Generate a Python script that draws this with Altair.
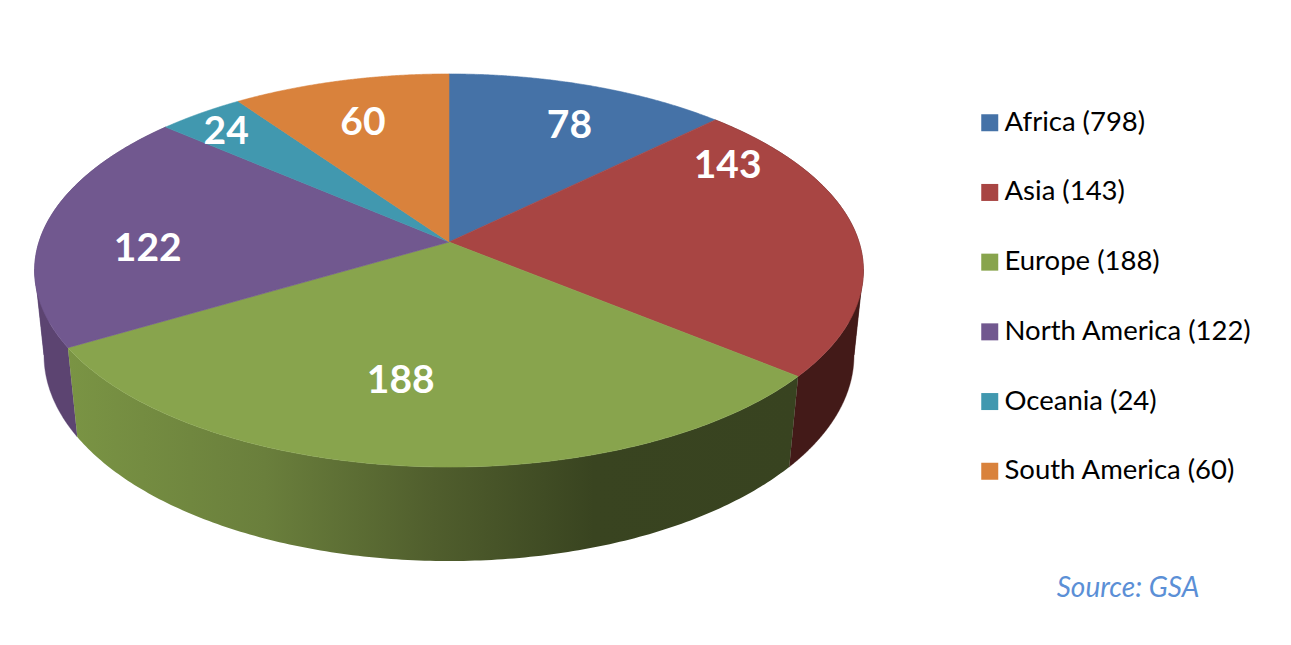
import math
import altair as alt
import pandas as pd

categories = ["Africa", "Asia", "Europe", "North America", "Oceania", "South America"]
values = [78, 143, 188, 122, 24, 60]
legend_labels = ["Africa (798)", "Asia (143)", "Europe (188)", "North America (122)", "Oceania (24)", "South America (60)"]
colors = ["#4572A7", "#A84543", "#88A44D", "#71588F", "#4198AF", "#D9823C"]
source_text = "Source: GSA"

# layout of the tilted disc (perspective projection of a circle), page offset removed
HUB_X, TOP_Y = 441.0, 234.0
TOP_R, TOP_S, TOP_K = 410.0, 192.4, 0.145
LOW_R, LOW_S, LOW_K, LOW_Y = 401.0, 201.7, 0.14, 318.5
# angles at which the wall folds round the visible edge of the disc
FOLDS = [math.radians(98), math.radians(262)]
# label shift from the slice's mid-radius point
LABEL_SHIFT = [(16, 0), (-15, -70), (-23, -15), (-10, 19), (-39, -15), (-5, 1)]
LABEL_RADIUS = 0.72


def top(theta, r=1.0):
    u, v = r * math.sin(theta), r * math.cos(theta)
    d = 1 + TOP_K * v
    return [HUB_X + TOP_R * u / d, TOP_Y - TOP_S * v / d]


def low(theta):
    u, v = math.sin(theta), math.cos(theta)
    d = 1 + LOW_K * v
    return [HUB_X + LOW_R * u / d, LOW_Y - LOW_S * v / d]


def closed(ring):
    return ring + [ring[0]]


total = sum(values)
edges = [0.0]
for v in values:
    edges.append(edges[-1] + v / total * 2 * math.pi)


def angles(a, b, n=160):
    return [a + (b - a) * i / n for i in range(n + 1)]


top_features = []
wall_features = {}
label_rows = []
for i, name in enumerate(categories):
    a, b = edges[i], edges[i + 1]
    ts = angles(a, b)
    top_ring = [[HUB_X, TOP_Y]] + [top(t) for t in ts]
    top_features.append({
        "type": "Feature",
        "geometry": {"type": "Polygon", "coordinates": [closed(top_ring)]},
        "properties": {"label": legend_labels[i]},
    })
    # one shape per side of a fold: in one path the two sides would cancel out
    cuts = [a] + [f for f in FOLDS if a < f < b] + [b]
    parts = []
    for c0, c1 in zip(cuts, cuts[1:]):
        part = angles(c0, c1)
        parts.append({
            "type": "Feature",
            "geometry": {"type": "Polygon", "coordinates": [closed([top(t) for t in part] + [low(t) for t in reversed(part)])]},
            "properties": {"label": legend_labels[i]},
        })
    wall_features[name] = parts
    mx, my = top((a + b) / 2, LABEL_RADIUS)
    label_rows.append({"x": mx + LABEL_SHIFT[i][0], "y": my + LABEL_SHIFT[i][1], "value": values[i]})

projection = alt.Projection(type="identity", scale=1, translate=[0, 0])


def geo(features):
    return alt.Data(values=features)


wall_red = alt.Chart(geo(wall_features["Asia"])).mark_geoshape(fill="#431A18", stroke="#431A18", strokeWidth=0.4).project(**projection.to_dict())
wall_purple = alt.Chart(geo(wall_features["North America"])).mark_geoshape(fill="#5C4471", stroke="#5C4471", strokeWidth=0.4).project(**projection.to_dict())
wall_green = alt.Chart(geo(wall_features["Europe"])).mark_geoshape(
    stroke=None,
    fill=alt.LinearGradient(
        gradient="linear", x1=0, x2=1, y1=0, y2=0,
        stops=[
            alt.GradientStop(color="#7A9444", offset=0),
            alt.GradientStop(color="#6A7F3C", offset=0.27),
            alt.GradientStop(color="#505E2D", offset=0.5),
            alt.GradientStop(color="#394420", offset=0.72),
            alt.GradientStop(color="#384320", offset=1),
        ],
    ),
).project(**projection.to_dict())

color_scale = alt.Scale(domain=legend_labels, range=colors)
pie_top = alt.Chart(geo(top_features)).mark_geoshape(strokeWidth=0.6).encode(
    color=alt.Color(
        "properties.label:N",
        scale=color_scale,
        legend=alt.Legend(
            title=None, orient="none", legendX=968, legendY=101, symbolType="square", symbolSize=289,
            symbolStrokeWidth=0, labelFont="Lato", labelFontSize=27.5, labelColor="#000000",
            labelLimit=320, rowPadding=40.7, labelOffset=1, padding=0,
        ),
    ),
    stroke=alt.Stroke("properties.label:N", scale=color_scale, legend=None),
).project(**projection.to_dict())

value_labels = alt.Chart(pd.DataFrame(label_rows)).mark_text(
    font="Lato", fontWeight="bold", fontSize=39, color="#FFFFFF", baseline="middle", align="center"
).encode(x=alt.X("x:Q", scale=None), y=alt.Y("y:Q", scale=None), text="value:N")

source = alt.Chart(pd.DataFrame({"t": [source_text]})).mark_text(
    font="Lato", fontStyle="italic", fontSize=28, color="#5B8FD6", baseline="middle", align="center"
).encode(x=alt.value(1120), y=alt.value(581), text="t:N")

chart = alt.layer(wall_red, wall_purple, wall_green, pie_top, value_labels, source).resolve_scale(x="independent", y="independent").properties(
    width=1275, height=629, padding=0, autosize=alt.AutoSizeParams(type="none")
).configure_view(stroke=None)

chart.save("out.html", embed_options={"renderer": "svg", "actions": False})
